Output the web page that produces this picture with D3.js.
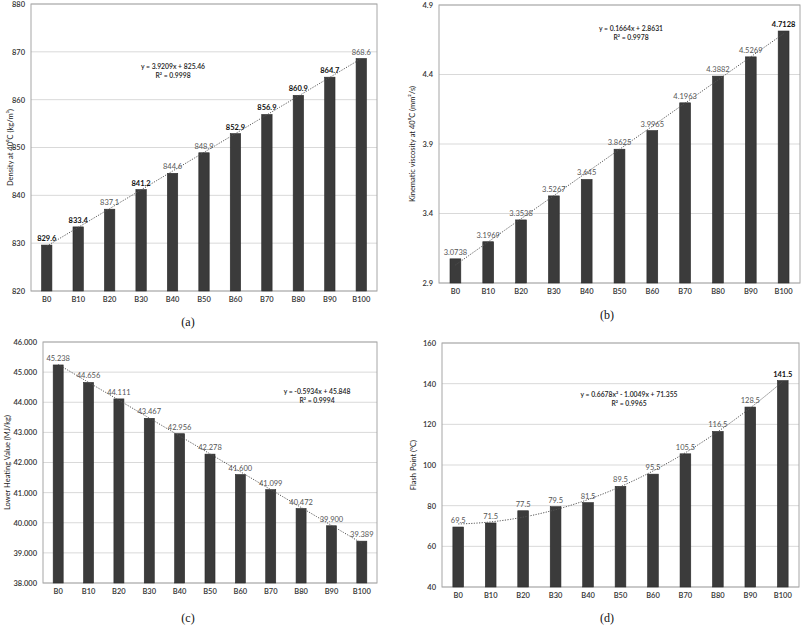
<!DOCTYPE html>
<html>
<head>
<meta charset="utf-8">
<script src="https://cdn.jsdelivr.net/npm/d3@7"></script>
<style>
  html, body { margin: 0; padding: 0; background: #fff; }
  svg { display: block; }
</style>
</head>
<body>
<svg id="chart" width="803" height="625"></svg>
<script>
// ---------------- DATA ----------------
const categories = ["B0", "B10", "B20", "B30", "B40", "B50", "B60", "B70", "B80", "B90", "B100"];

const densityValues = [829.6, 833.4, 837.1, 841.2, 844.6, 848.9, 852.9, 856.9, 860.9, 864.7, 868.6];
const densityTicks = [820, 830, 840, 850, 860, 870, 880];
const densityTrend = [825.46, 3.9209];           // c0 + c1*x
const densityEquation = ["y = 3.9209x + 825.46", "R² = 0.9998"];

const viscosityValues = [3.0738, 3.1969, 3.3538, 3.5267, 3.645, 3.8625, 3.9965, 4.1963, 4.3882, 4.5269, 4.7128];
const viscosityTicks = [2.9, 3.4, 3.9, 4.4, 4.9];
const viscosityTrend = [2.8631, 0.1664];
const viscosityEquation = ["y = 0.1664x + 2.8631", "R² = 0.9978"];

const lhvValues = [45.238, 44.656, 44.111, 43.467, 42.956, 42.278, 41.600, 41.099, 40.472, 39.900, 39.389];
const lhvTicks = [38, 39, 40, 41, 42, 43, 44, 45, 46];
const lhvTrend = [45.848, -0.5934];
const lhvEquation = ["y = -0.5934x + 45.848", "R² = 0.9994"];

const flashValues = [69.5, 71.5, 77.5, 79.5, 81.5, 89.5, 95.5, 105.5, 116.5, 128.5, 141.5];
const flashTicks = [40, 60, 80, 100, 120, 140, 160];
const flashTrend = [71.355, -1.0049, 0.6678];    // c0 + c1*x + c2*x^2
const flashEquation = ["y = 0.6678x² - 1.0049x + 71.355", "R² = 0.9965"];

// ---------------- PANELS (layout + style) ----------------
const panels = [
  { values: densityValues, ticks: densityTicks, trend: densityTrend, eq: densityEquation,
    title: "Density at 40⁰C (kg/m³)", caption: "(a)",
    box: { l: 31, r: 377, t: 4, b: 291 }, tickFmt: d3.format("d"), labFmt: d3.format(".1f"),
    eqPos: [173, 69], titleX: 11, capPos: [188, 326], bold: [0, 1, 3, 6, 7, 8, 9] },
  { values: viscosityValues, ticks: viscosityTicks, trend: viscosityTrend, eq: viscosityEquation,
    title: "Kinematic viscosity at 40⁰C (mm²/s)", caption: "(b)",
    box: { l: 439, r: 800, t: 5, b: 283 }, tickFmt: d3.format(".1f"), labFmt: d => String(d),
    eqPos: [631, 31], titleX: 413, capPos: [607, 319], bold: [10] },
  { values: lhvValues, ticks: lhvTicks, trend: lhvTrend, eq: lhvEquation,
    title: "Lower Heating Value (MJ/kg)", caption: "(c)",
    box: { l: 43, r: 377, t: 342, b: 583 }, tickFmt: d3.format(".3f"), labFmt: d3.format(".3f"),
    eqPos: [317, 394], titleX: 8, capPos: [188, 622], bold: [] },
  { values: flashValues, ticks: flashTicks, trend: flashTrend, eq: flashEquation,
    title: "Flash Point (°C)", caption: "(d)",
    box: { l: 442, r: 799, t: 343, b: 587 }, tickFmt: d3.format("d"), labFmt: d3.format(".1f"),
    eqPos: [629, 397], titleX: 414, capPos: [607, 622], bold: [10] }
];

const svg = d3.select("#chart");
const FONT = "Lato, 'Open Sans', sans-serif";

panels.forEach(p => {
  const g = svg.append("g");
  const { l, r, t, b } = p.box;

  const x = d3.scaleBand().domain(categories).range([l, r]).paddingInner(0.67).paddingOuter(0.335);
  const y = d3.scaleLinear().domain(d3.extent(p.ticks)).range([b, t]);

  // gridlines
  g.append("g").selectAll("line").data(p.ticks).join("line")
    .attr("x1", l).attr("x2", r)
    .attr("y1", d => y(d)).attr("y2", d => y(d))
    .attr("stroke", "#d9d9d9").attr("stroke-width", 1);

  // frame
  g.append("rect").attr("x", l).attr("y", t).attr("width", r - l).attr("height", b - t)
    .attr("fill", "none").attr("stroke", "#a6a6a6").attr("stroke-width", 1);

  // y axis (labels only)
  const yAxis = d3.axisLeft(y).tickValues(p.ticks).tickFormat(p.tickFmt).tickSize(0).tickPadding(6);
  const ya = g.append("g").attr("transform", `translate(${l},0)`).call(yAxis);
  ya.select(".domain").remove();
  ya.selectAll("text").attr("font-family", FONT).attr("font-size", 7.5).attr("fill", "#333").attr("font-weight", 600);

  // x axis
  const xAxis = d3.axisBottom(x).tickSize(0).tickPadding(6);
  const xa = g.append("g").attr("transform", `translate(0,${b})`).call(xAxis);
  xa.select(".domain").remove();
  xa.selectAll("text").attr("font-family", FONT).attr("font-size", 7.5).attr("fill", "#333").attr("font-weight", 600);

  // bars
  g.append("g").selectAll("rect").data(p.values).join("rect")
    .attr("x", (d, i) => x(categories[i]))
    .attr("y", d => y(d))
    .attr("width", x.bandwidth())
    .attr("height", d => b - y(d))
    .attr("fill", "#3b3b3b").attr("stroke", "#2a2a2a").attr("stroke-width", 0.6);

  // trendline
  const xi = d3.scaleLinear().domain([1, categories.length])
    .range([x(categories[0]) + x.bandwidth() / 2, x(categories[categories.length - 1]) + x.bandwidth() / 2]);
  const f = v => p.trend.reduce((s, c, k) => s + c * Math.pow(v, k), 0);
  const pts = d3.range(1, categories.length + 0.001, 0.1);
  g.append("path").datum(pts)
    .attr("d", d3.line().x(v => xi(v)).y(v => y(f(v))))
    .attr("fill", "none").attr("stroke", "#555").attr("stroke-width", 1)
    .attr("stroke-dasharray", "1.2,1.4");

  // data labels
  g.append("g").selectAll("text").data(p.values).join("text")
    .attr("x", (d, i) => x(categories[i]) + x.bandwidth() / 2)
    .attr("y", d => y(d) - 4)
    .attr("text-anchor", "middle")
    .attr("font-family", FONT).attr("font-size", 7.5)
    .attr("font-weight", (d, i) => p.bold.includes(i) ? 700 : 400)
    .attr("fill", (d, i) => p.bold.includes(i) ? "#111" : "#555")
    .text(d => p.labFmt(d));

  // equation
  g.append("g").selectAll("text").data(p.eq).join("text")
    .attr("x", p.eqPos[0]).attr("y", (d, i) => p.eqPos[1] + i * 9)
    .attr("text-anchor", "middle")
    .attr("font-family", FONT).attr("font-size", 6.8).attr("font-weight", 600)
    .attr("fill", "#222")
    .text(d => d);

  // y title
  g.append("text")
    .attr("transform", `translate(${p.titleX},${(t + b) / 2}) rotate(-90)`)
    .attr("text-anchor", "middle").attr("dominant-baseline", "middle")
    .attr("font-family", FONT).attr("font-size", 7.5).attr("fill", "#222")
    .text(p.title);

  // caption
  g.append("text")
    .attr("x", p.capPos[0]).attr("y", p.capPos[1])
    .attr("text-anchor", "middle")
    .attr("font-family", "'Liberation Serif', 'Times New Roman', serif").attr("font-size", 12)
    .attr("fill", "#111")
    .text(p.caption);
});
</script>
</body>
</html>
